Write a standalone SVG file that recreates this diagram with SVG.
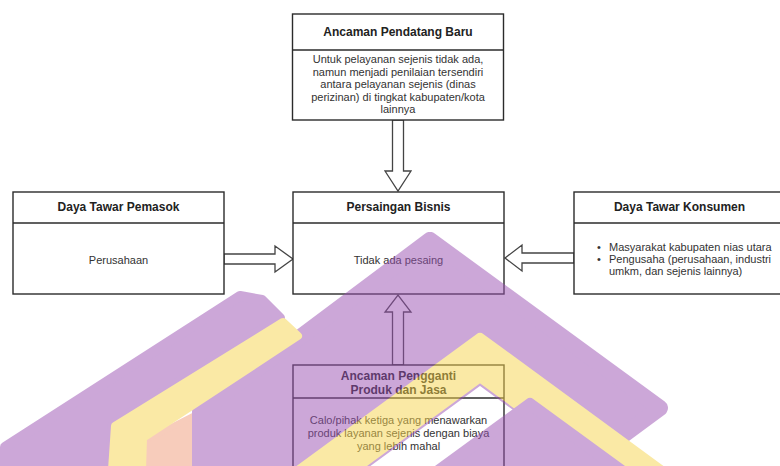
<svg xmlns="http://www.w3.org/2000/svg" width="780" height="466" viewBox="0 0 780 466">
<style>
.box{fill:#ffffff;stroke:#2b2b2b;stroke-width:1.4}
.sep{stroke:#2b2b2b;stroke-width:1.4}
.t{font-family:"Liberation Sans",Arial,sans-serif;font-size:12px;font-weight:bold;fill:#222;text-anchor:middle}
.b{font-family:"Liberation Sans",Arial,sans-serif;font-size:11px;fill:#333;text-anchor:middle}
.bl{font-family:"Liberation Sans",Arial,sans-serif;font-size:11px;fill:#333}
.arr{fill:#ffffff;stroke:#444;stroke-width:1.3;stroke-linejoin:miter}
</style>
<rect width="780" height="466" fill="#ffffff"/>
<g id="connectors">
<polygon class="arr" points="392.5,120 403.5,120 403.5,171 411,171 398,191 385,171 392.5,171"/>
<polygon class="arr" points="224,254 275,254 275,246 293,259 275,272 275,264 224,264"/>
<polygon class="arr" points="574,253 522,253 522,245 505,258 522,271 522,263 574,263"/>
<polygon class="arr" points="392.5,365 403.5,365 403.5,312 411,312 398,295 385,312 392.5,312"/>
</g>
<g id="node-ancaman-pendatang">
<rect class="box" x="292.5" y="14" width="211" height="106"/>
<line class="sep" x1="292.5" y1="50" x2="503.5" y2="50"/>
<text class="t" x="398" y="36">Ancaman Pendatang Baru</text>
<text class="b" x="398" y="63">Untuk pelayanan sejenis tidak ada,</text>
<text class="b" x="398" y="75.5">namun menjadi penilaian tersendiri</text>
<text class="b" x="398" y="88">antara pelayanan sejenis (dinas</text>
<text class="b" x="398" y="100.5">perizinan) di tingkat kabupaten/kota</text>
<text class="b" x="398" y="113">lainnya</text>
</g>
<g id="node-pemasok">
<rect class="box" x="13" y="192" width="211" height="102"/>
<line class="sep" x1="13" y1="223" x2="224" y2="223"/>
<text class="t" x="118.5" y="211">Daya Tawar Pemasok</text>
<text class="b" x="118.5" y="264">Perusahaan</text>
</g>
<g id="node-persaingan">
<rect class="box" x="293" y="192" width="211" height="102"/>
<line class="sep" x1="293" y1="223" x2="504" y2="223"/>
<text class="t" x="398.5" y="211">Persaingan Bisnis</text>
<text class="b" x="398.5" y="264">Tidak ada pesaing</text>
</g>
<g id="node-konsumen">
<rect class="box" x="574" y="192" width="211" height="102"/>
<line class="sep" x1="574" y1="223" x2="785" y2="223"/>
<text class="t" x="679.5" y="211">Daya Tawar Konsumen</text>
<text class="bl" x="597" y="251">•</text>
<text class="bl" x="609" y="251">Masyarakat kabupaten nias utara</text>
<text class="bl" x="597" y="263">•</text>
<text class="bl" x="609" y="263">Pengusaha (perusahaan, industri</text>
<text class="bl" x="609" y="275">umkm, dan sejenis lainnya)</text>
</g>
<g id="node-pengganti">
<rect class="box" x="293" y="365" width="211" height="110"/>
<line class="sep" x1="293" y1="398" x2="504" y2="398"/>
<text class="t" x="398.5" y="380">Ancaman Pengganti</text>
<text class="t" x="398.5" y="394">Produk dan Jasa</text>
<text class="b" x="398.5" y="424">Calo/pihak ketiga yang menawarkan</text>
<text class="b" x="398.5" y="437">produk layanan sejenis dengan biaya</text>
<text class="b" x="398.5" y="450">yang lebih mahal</text>
</g>
<g id="watermark" opacity="0.5" stroke-linejoin="round">
<path fill="#f19a7a" stroke="#f19a7a" stroke-width="6" d="M146,440 L205,410 L205,470 L146,470 Z"/>
<path fill="#9a52b3" fill-rule="evenodd" stroke="#9a52b3" stroke-width="16" d="M430,240 L660,408 L430,578 L262,474 L200,474 L200,412 Z M480,376 L662,509 L480,642 L298,509 Z"/>
<path fill="#f7d54e" fill-rule="evenodd" stroke="#f7d54e" stroke-width="12" d="M480,339 L712,509 L480,679 L248,509 Z M480,376 L662,509 L480,642 L298,509 Z"/>
<path fill="#9a52b3" stroke="#9a52b3" stroke-width="12" d="M530,404 L712,537 L530,670 L348,537 Z"/>
<path fill="#9a52b3" stroke="#9a52b3" stroke-width="10" d="M5,447 L240,296 L262,300 L280,318 L113,424 L110,470 L5,470 Z"/>
<path fill="#f7d54e" stroke="#f7d54e" stroke-width="8" d="M283,322 L298,336 L143,438 L142,470 L112,470 L115,426 Z"/>
</g>
</svg>
